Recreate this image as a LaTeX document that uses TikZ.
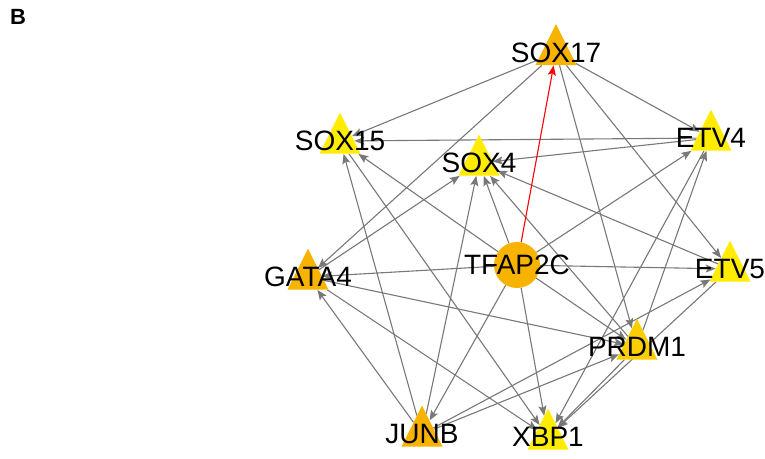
\documentclass[tikz,border=0pt]{standalone}
\usepackage{fontspec}
\setmainfont{Liberation Sans}
\usetikzlibrary{shapes.geometric,arrows.meta,backgrounds}
\definecolor{orng}{RGB}{248,178,0}
\definecolor{yel}{RGB}{255,236,0}
\definecolor{gold}{RGB}{250,206,0}
\definecolor{edgegray}{RGB}{120,120,120}

\begin{document}
\begin{tikzpicture}[x=1pt,y=-1pt,
  tri/.style={isosceles triangle,isosceles triangle stretches,shape border rotate=90,
    minimum width=41pt,minimum height=41pt,inner sep=0pt,fill=#1},
  hub/.style={circle,minimum size=46pt,inner sep=0pt,fill=orng},
  lbl/.style={label={[font=\fontsize{28}{28}\selectfont,inner sep=0pt]center:#1}},
  edge/.style={draw=edgegray,line width=1.1pt,-{Stealth[length=10pt,width=8pt,inset=2pt]}}]
\useasboundingbox (0,0) rectangle (765,458);
\node[font=\fontsize{22}{22}\selectfont\bfseries,inner sep=0pt] (panel) at (18,17) {B};

% nodes
\node[tri=orng,lbl=SOX17] (sox17) at (556,52.5) {};
\node[tri=yel,lbl=SOX15] (sox15) at (340,141) {};
\node[tri=yel,lbl=SOX4] (sox4) at (479,163) {};
\node[tri=yel,lbl=ETV4] (etv4) at (711,138) {};
\node[tri=orng,lbl=GATA4] (gata4) at (308,277) {};
\node[hub,lbl=TFAP2C] (tfap2c) at (517,265) {};
\node[tri=yel,lbl=ETV5] (etv5) at (730,269) {};
\node[tri=gold,lbl=PRDM1] (prdm1) at (637,347) {};
\node[tri=orng,lbl=JUNB] (junb) at (422,434) {};
\node[tri=yel,lbl=XBP1] (xbp1) at (548,437) {};

% edges
\begin{scope}[on background layer]
\foreach \a/\b in {sox17/sox15,sox17/gata4,sox17/prdm1,sox17/etv4,sox17/etv5,
    etv4/sox15,etv4/sox4,etv4/xbp1,gata4/sox4,gata4/prdm1,gata4/xbp1,sox15/xbp1,
    junb/sox15,junb/gata4,junb/sox4,junb/prdm1,junb/etv5,
    tfap2c/sox15,tfap2c/sox4,tfap2c/etv4,tfap2c/etv5,tfap2c/prdm1,tfap2c/xbp1,
    tfap2c/junb,tfap2c/gata4,etv5/sox4,etv5/xbp1,prdm1/sox4,prdm1/etv4,prdm1/xbp1}
  \draw[edge] (\a) -- (\b);
\draw[edge,draw=red] (tfap2c) -- (sox17);
\end{scope}
\end{tikzpicture}
\end{document}
